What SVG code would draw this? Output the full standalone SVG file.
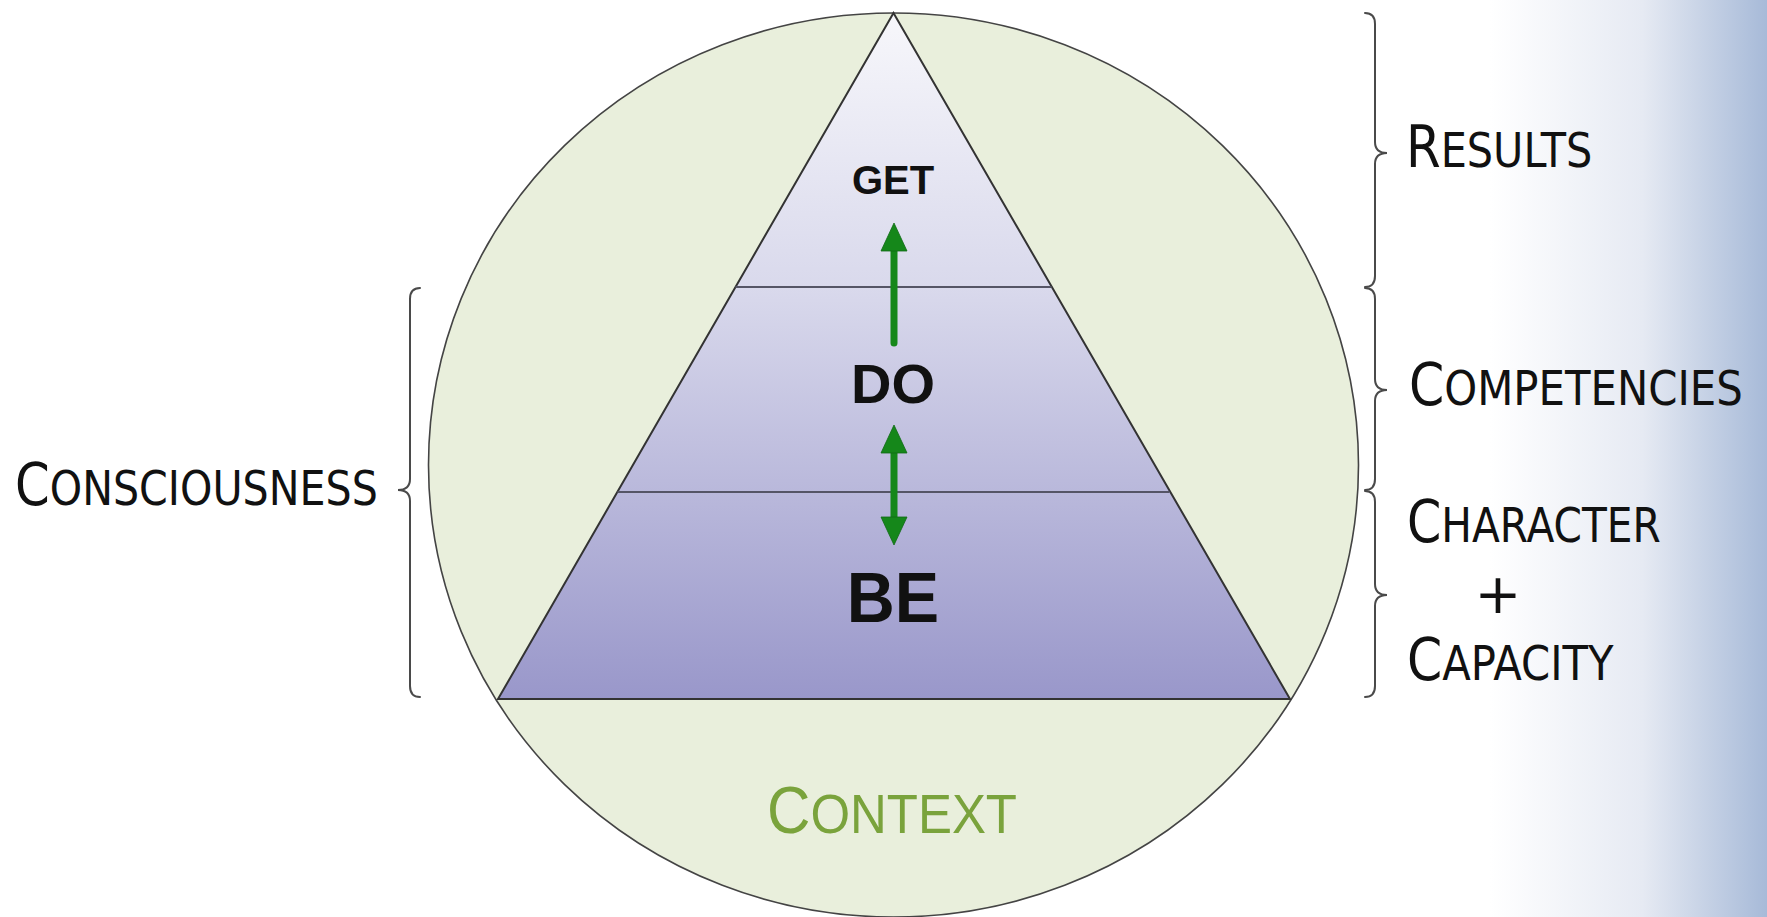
<svg xmlns="http://www.w3.org/2000/svg" width="1767" height="917" viewBox="0 0 1767 917">
  <defs>
    <linearGradient id="bg" gradientUnits="userSpaceOnUse" x1="1490" y1="0" x2="1767" y2="0">
      <stop offset="0" stop-color="#ffffff"/>
      <stop offset="0.55" stop-color="#e6eaf3"/>
      <stop offset="1" stop-color="#a7bad8"/>
    </linearGradient>
    <linearGradient id="tri" gradientUnits="userSpaceOnUse" x1="0" y1="13" x2="0" y2="699">
      <stop offset="0" stop-color="#f7f7fb"/>
      <stop offset="0.4" stop-color="#d9d9ec"/>
      <stop offset="1" stop-color="#9997ca"/>
    </linearGradient>
    <filter id="sh" x="-5%" y="-200%" width="110%" height="500%">
      <feGaussianBlur in="SourceAlpha" stdDeviation="1.5"/>
      <feOffset dy="2"/>
      <feComponentTransfer><feFuncA type="linear" slope="0.35"/></feComponentTransfer>
      <feMerge><feMergeNode/><feMergeNode in="SourceGraphic"/></feMerge>
    </filter>
  </defs>
  <style>
    .brace { fill: none; stroke: #4a4a4a; stroke-width: 2; stroke-linecap: round; }
    .lbl { font-family: "DejaVu Sans", "Liberation Sans", sans-serif; fill: #111; }
    .big { font-size: 58px; }
    .small { font-size: 48px; }
    .lvl { font-family: "Liberation Sans", Arial, sans-serif; font-weight: bold; fill: #111; text-anchor: middle; }
    .arrow { fill: #15871a; stroke: #0f6a14; stroke-width: 0.8; }
    .div { stroke: #555566; stroke-width: 2; }
  </style>

  <rect x="0" y="0" width="1767" height="917" fill="#ffffff"/>
  <rect x="1490" y="0" width="277" height="917" fill="url(#bg)"/>

  <g id="context">
    <ellipse cx="893.5" cy="465" rx="465" ry="452" fill="#e9efdc" stroke="#444" stroke-width="1.6"/>
    <text transform="translate(892,833) scale(0.91,1)" text-anchor="middle" font-family="Liberation Sans, Arial, sans-serif" fill="#7aa33c"><tspan font-size="66">C</tspan><tspan font-size="56">ONTEXT</tspan></text>
  </g>

  <g id="pyramid">
    <polygon points="893.5,13 1290,699 498,699" fill="url(#tri)" stroke="#333" stroke-width="2" stroke-linejoin="miter"/>
    <line class="div" x1="735.5" y1="287" x2="1051.5" y2="287"/>
    <line class="div" x1="617.5" y1="492" x2="1169.5" y2="492"/>
    <line x1="498" y1="698" x2="1290" y2="698" stroke="#2a2a3a" stroke-width="3.5" filter="url(#sh)"/>
  </g>

  <g id="get"><text class="lvl" x="893" y="194" font-size="40">GET</text></g>
  <g id="do"><text class="lvl" x="893" y="403" font-size="56">DO</text></g>
  <g id="be"><text class="lvl" transform="translate(893,622) scale(0.95,1)" font-size="70">BE</text></g>

  <g id="connectors">
    <g id="arrow-do-get">
      <line x1="894" y1="248" x2="894" y2="343" stroke="#15871a" stroke-width="7" stroke-linecap="round"/>
      <polygon class="arrow" points="894,223 907,251 881,251"/>
    </g>
    <g id="arrow-be-do">
      <line x1="894" y1="450" x2="894" y2="520" stroke="#15871a" stroke-width="7"/>
      <polygon class="arrow" points="894,425 907,453 881,453"/>
      <polygon class="arrow" points="881,517 907,517 894,545"/>
    </g>
  </g>

  <g id="results">
    <path class="brace" d="M1365,13 Q1375,13 1375,24 L1375,142 Q1375,153 1387,153 Q1375,153 1375,164 L1375,276 Q1375,287 1365,287"/>
    <text class="lbl" transform="translate(1406,167) scale(0.862,1)"><tspan class="big">R</tspan><tspan class="small">ESULTS</tspan></text>
  </g>

  <g id="competencies">
    <path class="brace" d="M1365,288 Q1375,288 1375,299 L1375,379 Q1375,390 1387,390 Q1375,390 1375,401 L1375,479 Q1375,490 1365,490"/>
    <text class="lbl" transform="translate(1409,405) scale(0.872,1)"><tspan class="big">C</tspan><tspan class="small">OMPETENCIES</tspan></text>
  </g>

  <g id="character-capacity">
    <path class="brace" d="M1365,491 Q1375,491 1375,502 L1375,584 Q1375,595 1387,595 Q1375,595 1375,606 L1375,686 Q1375,697 1365,697"/>
    <text class="lbl" transform="translate(1407,542) scale(0.848,1)"><tspan class="big">C</tspan><tspan class="small">HARACTER</tspan></text>
    <text class="lbl" x="1498" y="613" text-anchor="middle" font-size="56">+</text>
    <text class="lbl" transform="translate(1407,680) scale(0.87,1)"><tspan class="big">C</tspan><tspan class="small">APACITY</tspan></text>
  </g>

  <g id="consciousness">
    <path class="brace" d="M420,288 Q410,288 410,299 L410,479 Q410,490 398,490 Q410,490 410,501 L410,686 Q410,697 420,697"/>
    <text class="lbl" transform="translate(15,505) scale(0.858,1)"><tspan class="big">C</tspan><tspan class="small">ONSCIOUSNESS</tspan></text>
  </g>
</svg>
